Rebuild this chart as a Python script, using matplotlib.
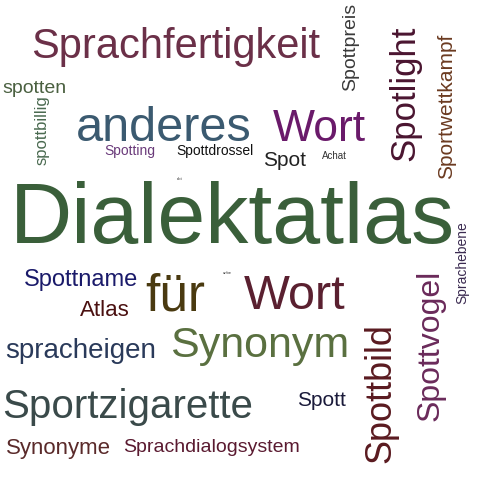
import matplotlib.pyplot as plt

# word cloud data: word, font size (pt), centre x/y (px), colour, rotation
words = ["Dialektatlas", "Sprachfertigkeit", "anderes", "Wort", "Spotlight",
         "Sportwettkampf", "Spottpreis", "spotten", "spottbillig", "Spotting",
         "Spottdrossel", "Spot", "Achat", "ebt", "unbe", "Sprachebene",
         "Spottname", "für", "Wort", "Atlas", "spracheigen", "Synonym",
         "Spottvogel", "Spottbild", "Sportzigarette", "Spott", "Synonyme",
         "Sprachdialogsystem"]
sizes = [62, 30, 35, 32, 25, 15, 14, 14, 12, 10, 10, 15, 7, 3, 3, 10,
         17, 37, 35, 16, 20, 31, 23, 26, 29, 15, 16, 14]
xs = [232, 176, 164, 319, 405, 447, 351, 34, 42, 130, 215, 285, 334, 180,
      227, 462, 81, 175, 295, 105, 81, 260, 431, 381, 128, 321, 58, 212]
ys = [213, 43, 124, 125, 93, 106, 47, 87, 130, 150, 150, 159, 155, 179,
      273, 263, 278, 292, 292, 308, 348, 342, 345, 393, 403, 399, 446, 446]
colors = ["#3a5f3a", "#6b3048", "#3b5a70", "#6a1a6a", "#4a1530", "#6b3a20",
          "#3a3a3a", "#4a6040", "#4a6a50", "#6a3a7a", "#111111", "#222222",
          "#333333", "#333333", "#333333", "#3a2a50", "#1a1a6a", "#4a3a10",
          "#5a2030", "#4a1010", "#2a3a5a", "#5a7040", "#6a2a5a", "#5a1a20",
          "#3a4a4a", "#1a1a3a", "#5a2a2a", "#5a1a30"]
rotations = [0, 0, 0, 0, 90, 90, 90, 0, 90, 0, 0, 0, 0, 0, 0, 90,
             0, 0, 0, 0, 0, 0, 90, 90, 0, 0, 0, 0]

fig = plt.figure(figsize=(5, 5), dpi=100)
ax = fig.add_axes([0, 0, 1, 1])
ax.set_xlim(0, 500)
ax.set_ylim(500, 0)
ax.axis("off")

for w, s, x, y, c, r in zip(words, sizes, xs, ys, colors, rotations):
    # va="center" includes descender space, nudge horizontal words down
    dy = 0.13 * s if r == 0 else 0
    ax.text(x, y + dy, w, fontsize=s, color=c, rotation=r, ha="center",
            va="center", family="Liberation Sans")

fig.savefig("out.png", dpi=100)
